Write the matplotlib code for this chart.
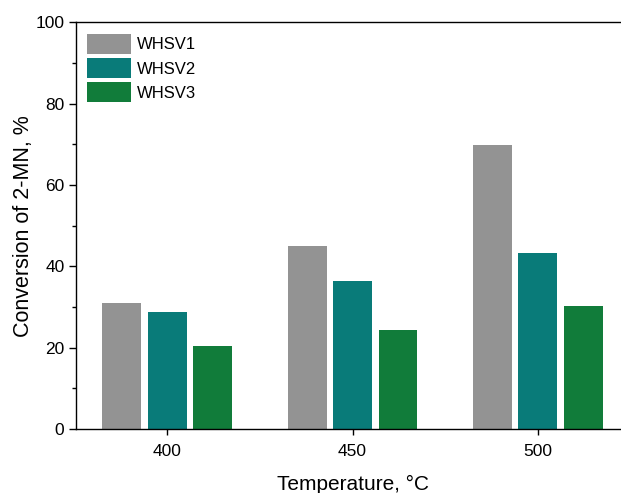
import numpy as np
import matplotlib
matplotlib.use('Agg')
import matplotlib.pyplot as plt

plt.rcParams['font.family'] = ['Liberation Sans', 'DejaVu Sans']

# data
temperatures = [400, 450, 500]
series = ['WHSV1', 'WHSV2', 'WHSV3']
whsv1 = [31.0, 45.0, 69.9]
whsv2 = [28.8, 36.4, 43.3]
whsv3 = [20.4, 24.4, 30.3]
colors = ['#939393', '#097b79', '#117c3a']

fig = plt.figure(figsize=(6.21, 4.93), dpi=100)
ax = fig.add_axes([0.1216, 0.1298, 0.8784, 0.8246])

x = np.array(temperatures, dtype=float)
width = 10.5
offset = 12.26
for i, (vals, name, c) in enumerate(zip([whsv1, whsv2, whsv3], series, colors)):
    ax.bar(x + (i - 1) * offset, vals, width=width, color=c, label=name)

ax.set_xlim(375.3, 522.4)
ax.set_ylim(0, 100)
ax.set_xticks(temperatures)
ax.set_yticks(np.arange(0, 101, 20))
ax.set_yticks(np.arange(10, 100, 20), minor=True)

ax.spines['right'].set_visible(False)
for s in ['left', 'bottom', 'top']:
    ax.spines[s].set_linewidth(1.0)
    ax.spines[s].set_color('black')

ax.tick_params(axis='y', which='major', direction='out', length=5, width=1, labelsize=12.5, pad=3)
ax.tick_params(axis='y', which='minor', direction='out', length=3, width=1)
ax.tick_params(axis='x', which='major', direction='out', length=4, width=1, labelsize=12.5, pad=7)

ax.set_xlabel('Temperature, °C', fontsize=15, labelpad=11, x=0.5096)
ax.set_ylabel('Conversion of 2-MN, %', fontsize=15.5, labelpad=1)

ax.legend(loc='upper left', frameon=False, fontsize=12,
          handlelength=2.65, handleheight=1.45, labelspacing=0.27,
          handletextpad=0.36, borderpad=0, borderaxespad=0.68)

fig.savefig('out.png', dpi=100)
